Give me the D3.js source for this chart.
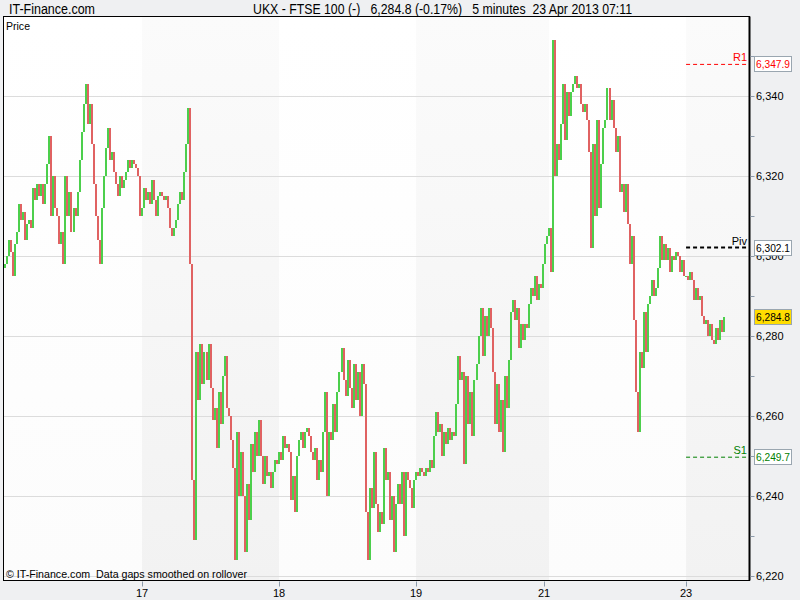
<!DOCTYPE html>
<html><head><meta charset="utf-8">
<script src="https://cdn.jsdelivr.net/npm/d3@7"></script>
<style>html,body{margin:0;padding:0;background:#eff0f2;}svg{display:block;}</style>
</head><body>
<svg id="chart" width="800" height="600"></svg>
<script>
// 5-minute closes (open of each bar = previous close)
const day16 = [6298,6300,6304,6301,6295,6303,6306,6313,6309,6311,6304,6308,6309,6307,6317,6314,6318,6315,6318,6313,
  6318,6323,6330,6310,6320,6312,6310,6303,6306,6298,6320,6310,6316,6306,6312,6310,6316,6324,6331,6338,
  6343,6333,6338,6328,6318,6310,6304,6298,6312,6320,6327,6332,6324,6326,6321,6318,6315,6320,6317,6319,
  6321,6324,6322,6324,6323,6322,6320,6310];
const day17 = [6312,6317,6314,6316,6313,6319,6314,6310,6315,6316,6315,6314,6315,6312,6307,6305,6307,6309,6313,6316,
  6314,6321,6328,6337,6298,6244,6229,6276,6264,6278,6268,6276,6269,6278,6267,6259,6262,6252,6266,6258,
  6270,6275,6262,6260,6254,6247,6224,6256,6240,6251,6240,6226,6243,6234,6253,6246,6256,6250,6259,6250,
  6243,6250,6245,6246,6242,6246,6249,6248];
const day18 = [6251,6249,6255,6252,6253,6251,6239,6245,6236,6250,6254,6256,6252,6256,6257,6255,6251,6249,6252,6244,
  6249,6246,6256,6266,6240,6256,6254,6263,6256,6266,6271,6277,6269,6265,6274,6267,6262,6273,6264,6271,
  6260,6273,6268,6236,6224,6242,6237,6251,6238,6231,6236,6233,6252,6244,6246,6234,6240,6226,6238,6243,
  6238,6246,6230,6246,6244,6242,6237,6244];
const day19 = [6246,6245,6247,6246,6245,6247,6246,6249,6247,6255,6261,6256,6258,6250,6256,6253,6257,6254,6256,6255,
  6263,6275,6269,6271,6248,6270,6258,6266,6255,6269,6273,6280,6287,6275,6285,6280,6287,6282,6271,6258,
  6268,6256,6264,6251,6270,6262,6274,6286,6289,6284,6287,6277,6283,6279,6283,6282,6288,6292,6290,6295,
  6289,6293,6292,6298,6303,6305];
const day22 = [6307,6296,6354,6320,6328,6324,6333,6343,6329,6341,6335,6341,6343,6345,6342,6343,6338,6336,6338,6334,
  6326,6302,6328,6310,6334,6312,6323,6332,6334,6342,6334,6339,6332,6326,6330,6316,6318,6311,6318,6308,
  6298,6305,6284,6266,6256,6276,6272,6286,6276,6288,6290,6294,6290,6292,6297,6305,6299,6303,6299,6302,
  6296,6300,6299,6301,6300,6296,6299,6295];
const day23 = [6295,6294,6296,6294,6289,6292,6289,6290,6285,6283,6284,6280,6283,6279,6278,6282,6279,6284,6281,6284.8];
const firstOpen = 6297;

const dayStarts = [0, 68, 136, 204, 270, 338];
const xTickIdx = [68, 136, 204, 267.5, 338];
const xTickLabels = ["17", "18", "19", "21", "23"];
const yMajor = [6220, 6240, 6260, 6280, 6300, 6320, 6340];
const yMinor = [6230, 6250, 6270, 6290, 6310, 6330, 6350];
const levelNames = ["R1", "Piv", "S1"];
const levelValues = [6347.9, 6302.1, 6249.7];
const levelColors = ["#ff0000", "#000000", "#008000"];
const lastPrice = 6284.8;

const closes = [].concat(day16, day17, day18, day19, day22, day23);
const bars = closes.map((c, i) => ({i, o: i === 0 ? firstOpen : closes[i - 1], c}));

const svg = d3.select("#chart");
const L = 3.5, R = 749.5, T = 16.5, B = 580.5;
const x = d3.scaleLinear().domain([0, closes.length - 1]).range([5, 5 + (closes.length - 1) * 2.015]);
const y = d3.scaleLinear().domain([6220, 6360]).range([576, 16]);
const fmt = d3.format(",.0f"), fmt1 = d3.format(",.1f");
const axisFont = "'Liberation Sans', Arial, sans-serif";
const narrow = "'Liberation Sans Narrow', 'Arial Narrow', 'Liberation Sans', Arial, sans-serif";

const defs = svg.append("defs");
const g1 = defs.append("linearGradient").attr("id", "shade").attr("x1", 0).attr("y1", 0).attr("x2", 0).attr("y2", 1);
g1.append("stop").attr("offset", "0%").attr("stop-color", "#fbfbfb");
g1.append("stop").attr("offset", "100%").attr("stop-color", "#f2f2f2");
const g2 = defs.append("linearGradient").attr("id", "plain").attr("x1", 0).attr("y1", 0).attr("x2", 0).attr("y2", 1);
g2.append("stop").attr("offset", "0%").attr("stop-color", "#ffffff");
g2.append("stop").attr("offset", "100%").attr("stop-color", "#fcfcfc");

// plot background
svg.append("rect").attr("x", L).attr("y", T).attr("width", R - L).attr("height", B - T).attr("fill", "url(#plain)");
// alternate day shading
const bandDays = [1, 3, 5];
bandDays.forEach(d => {
  const x0 = x(dayStarts[d]);
  const x1 = d + 1 < dayStarts.length ? x(dayStarts[d + 1]) : R;
  svg.append("rect").attr("x", x0).attr("y", T).attr("width", x1 - x0).attr("height", B - T).attr("fill", "url(#shade)");
});

// gridlines
svg.append("g").selectAll("line").data(yMajor).join("line")
  .attr("x1", L).attr("x2", R).attr("y1", d => Math.round(y(d)) + 0.5).attr("y2", d => Math.round(y(d)) + 0.5)
  .attr("stroke", "#dcdcdc").attr("stroke-width", 1);

// candles
svg.append("g").attr("shape-rendering", "crispEdges").selectAll("rect").data(bars).join("rect")
  .attr("x", d => Math.round(x(d.i)) - 1).attr("width", 2)
  .attr("y", d => Math.round(y(Math.max(d.o, d.c))))
  .attr("height", d => Math.max(1, Math.round(y(Math.min(d.o, d.c))) - Math.round(y(Math.max(d.o, d.c)))))
  .attr("fill", d => d.c >= d.o ? "#4ccf4c" : "#e06262");

// level lines (current day)
const lx0 = x(dayStarts[5]);
levelValues.forEach((v, k) => {
  svg.append("line").attr("x1", lx0).attr("x2", R).attr("y1", y(v)).attr("y2", y(v))
    .attr("stroke", levelColors[k]).attr("stroke-width", k === 1 ? 2 : 1).attr("stroke-dasharray", "4,3");
  svg.append("text").attr("x", 747).attr("y", y(v) - 3).attr("text-anchor", "end")
    .attr("font-family", axisFont).attr("font-size", 11).attr("fill", levelColors[k]).text(levelNames[k]);
});

// frame
svg.append("rect").attr("x", L).attr("y", T).attr("width", R - L).attr("height", B - T)
  .attr("fill", "none").attr("stroke", "#000").attr("stroke-width", 1);
svg.append("line").attr("x1", R).attr("x2", R).attr("y1", T).attr("y2", B).attr("stroke", "#000").attr("stroke-width", 2);

// right axis
const tickCol = "#8d9bab";
svg.append("g").selectAll("line").data(yMajor.concat(yMinor)).join("line")
  .attr("x1", R + 1).attr("x2", R + 5).attr("y1", d => Math.round(y(d)) + 0.5).attr("y2", d => Math.round(y(d)) + 0.5)
  .attr("stroke", tickCol);
svg.append("g").selectAll("text").data(yMajor).join("text")
  .attr("x", 756).attr("y", d => y(d) + 4).attr("font-family", axisFont).attr("font-size", 11)
  .attr("fill", "#000").text(d => fmt(d));

// bottom axis
svg.append("g").selectAll("line").data(xTickIdx).join("line")
  .attr("x1", d => Math.round(x(d)) + 0.5).attr("x2", d => Math.round(x(d)) + 0.5).attr("y1", B + 1).attr("y2", B + 6)
  .attr("stroke", tickCol);
svg.append("g").selectAll("text").data(xTickIdx).join("text")
  .attr("x", d => x(d)).attr("y", 597).attr("text-anchor", "middle")
  .attr("font-family", axisFont).attr("font-size", 11).attr("fill", "#000").text((d, k) => xTickLabels[k]);

// value boxes
function valueBox(v, fill, color) {
  const cy = y(v);
  svg.append("rect").attr("x", 754.5).attr("y", Math.round(cy) - 7.5).attr("width", 37).attr("height", 15)
    .attr("fill", fill).attr("stroke", "#9aa6b0");
  svg.append("text").attr("x", 756).attr("y", Math.round(cy) + 4).attr("font-family", axisFont).attr("font-size", 11)
    .attr("textLength", 34).attr("lengthAdjust", "spacingAndGlyphs").attr("fill", color).text(fmt1(v));
}
levelValues.forEach((v, k) => valueBox(v, "#ffffff", levelColors[k]));
valueBox(lastPrice, "#ffdd00", "#000000");

// texts
svg.append("text").attr("x", 9).attr("y", 14).attr("font-family", narrow).attr("font-size", 14)
  .attr("textLength", 86).attr("lengthAdjust", "spacingAndGlyphs").attr("fill", "#000").text("IT-Finance.com");
svg.append("text").attr("x", 253).attr("y", 14).attr("font-family", narrow).attr("font-size", 14)
  .attr("textLength", 379).attr("lengthAdjust", "spacingAndGlyphs").attr("fill", "#000")
  .attr("xml:space", "preserve").style("white-space", "pre")
  .text("UKX - FTSE 100 (-)   6,284.8 (-0.17%)   5 minutes  23 Apr 2013 07:11");
svg.append("text").attr("x", 6).attr("y", 30).attr("font-family", axisFont).attr("font-size", 11)
  .attr("textLength", 24).attr("lengthAdjust", "spacingAndGlyphs").attr("fill", "#000").text("Price");
svg.append("text").attr("x", 6).attr("y", 578).attr("font-family", axisFont).attr("font-size", 11)
  .attr("textLength", 241).attr("lengthAdjust", "spacingAndGlyphs").attr("fill", "#000")
  .attr("xml:space", "preserve").style("white-space", "pre")
  .text("© IT-Finance.com  Data gaps smoothed on rollover");
</script>
</body></html>
